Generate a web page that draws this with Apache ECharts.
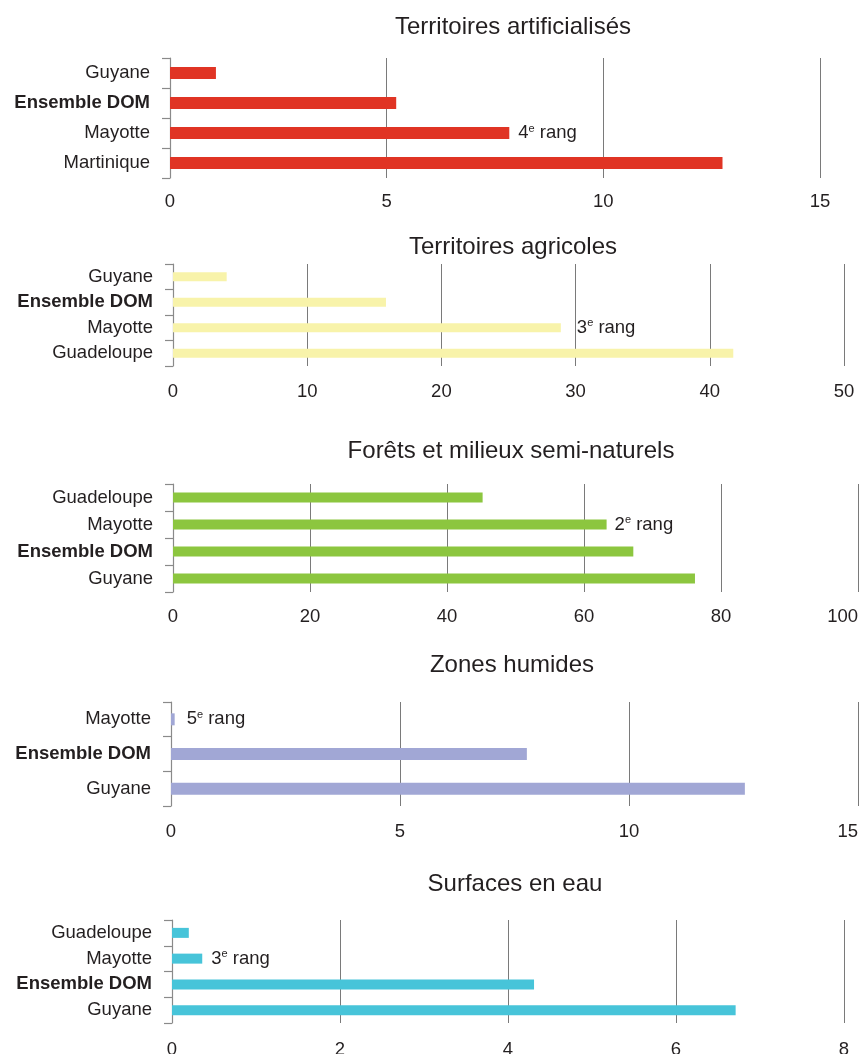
<!DOCTYPE html>
<html>
<head>
<meta charset="utf-8">
<script src="https://cdn.jsdelivr.net/npm/echarts@6/dist/echarts.min.js"></script>
<style>
html,body{margin:0;padding:0;background:#fff;}
#main{width:861px;height:1054px;}
</style>
</head>
<body>
<div id="main"></div>
<script>
// ---- Data ----
const titles = ['Territoires artificialisés', 'Territoires agricoles', 'Forêts et milieux semi-naturels', 'Zones humides', 'Surfaces en eau'];

const cats1 = ['Guyane', 'Ensemble DOM', 'Mayotte', 'Martinique'];
const vals1 = [1.06, 5.22, 7.83, 12.75];

const cats2 = ['Guyane', 'Ensemble DOM', 'Mayotte', 'Guadeloupe'];
const vals2 = [4.0, 15.87, 28.9, 41.75];

const cats3 = ['Guadeloupe', 'Mayotte', 'Ensemble DOM', 'Guyane'];
const vals3 = [45.2, 63.3, 67.2, 76.2];

const cats4 = ['Mayotte', 'Ensemble DOM', 'Guyane'];
const vals4 = [0.08, 7.77, 12.53];

const cats5 = ['Guadeloupe', 'Mayotte', 'Ensemble DOM', 'Guyane'];
const vals5 = [0.2, 0.36, 4.31, 6.71];

const axisMax = [15, 50, 100, 15, 8];
const axisInterval = [5, 10, 20, 5, 2];

const rankNumbers = ['4', '3', '2', '5', '3'];
const rankRegion = 'Mayotte';
const rankSuffix = 'e';
const rankWord = ' rang';

// ---- Layout / style ----
const allCats = [cats1, cats2, cats3, cats4, cats5];
const allVals = [vals1, vals2, vals3, vals4, vals5];
const colors = ['#e03424', '#f8f3aa', '#8cc63f', '#a1a7d5', '#47c4d9'];
const grids = [
  {left: 170, top: 58, height: 120, right: 41},
  {left: 173, top: 264, height: 102, right: 17},
  {left: 173, top: 484, height: 108, right: 3},
  {left: 171, top: 702, height: 104, right: 3},
  {left: 172, top: 920, height: 103, right: 17}
];
const barWidths = [12, 9, 10, 12, 10];
const labelDist = [9, 16, 8, 12, 9];
const tickMargins = [14, 16, 15, 16, 17];
const titlePos = [[513, 27], [513, 247], [511, 451], [512, 665], [515, 884]];
const FONT = '"Liberation Sans", Arial, Helvetica, sans-serif';
const TXT = '#231f20';
const LBL = 18.5;

const chart = echarts.init(document.getElementById('main'), null, {renderer: 'canvas'});

const option = {
  animation: false,
  backgroundColor: '#fff',
  textStyle: {fontFamily: FONT},
  grid: grids.map(g => Object.assign({containLabel: false, outerBoundsMode: 'none'}, g)),
  graphic: titles.map((t, i) => ({
    type: 'text',
    x: titlePos[i][0],
    y: titlePos[i][1],
    style: {
      text: t,
      fontFamily: FONT,
      fontSize: 24,
      fill: TXT,
      textAlign: 'center',
      textVerticalAlign: 'middle'
    }
  })),
  xAxis: grids.map((g, i) => ({
    type: 'value',
    gridIndex: i,
    min: 0,
    max: axisMax[i],
    interval: axisInterval[i],
    axisLine: {show: false},
    axisTick: {show: false},
    splitLine: {show: true, lineStyle: {color: '#7a7a7a', width: 1}},
    axisLabel: {
      fontFamily: FONT, fontSize: LBL, color: TXT, margin: tickMargins[i],
      alignMaxLabel: (i === 2 || i === 3) ? 'right' : null
    }
  })),
  yAxis: grids.map((g, i) => ({
    type: 'category',
    gridIndex: i,
    data: allCats[i],
    inverse: true,
    boundaryGap: true,
    axisLine: {show: true, lineStyle: {color: '#8a8a8a', width: 1.2}},
    axisTick: {show: true, length: 8, interval: 0, lineStyle: {color: '#8a8a8a', width: 1.2}},
    splitLine: {show: false},
    axisLabel: {
      interval: 0,
      margin: 20,
      fontFamily: FONT,
      fontSize: LBL,
      color: TXT,
      formatter: v => v === 'Ensemble DOM' ? '{b|' + v + '}' : v,
      rich: {b: {fontFamily: FONT, fontSize: LBL, fontWeight: 'bold', color: TXT}}
    }
  })),
  series: allVals.map((vals, i) => ({
    type: 'bar',
    xAxisIndex: i,
    yAxisIndex: i,
    data: vals,
    barWidth: barWidths[i],
    itemStyle: {color: colors[i]},
    silent: true,
    label: {
      show: true,
      position: 'right',
      distance: labelDist[i],
      formatter: p => p.name === rankRegion ? '{n|' + rankNumbers[i] + '}{s|' + rankSuffix + '}{n|' + rankWord + '}' : '',
      rich: {
        n: {fontFamily: FONT, fontSize: LBL, color: TXT, lineHeight: 20},
        s: {fontFamily: FONT, fontSize: 11, color: TXT, lineHeight: 13, verticalAlign: 'top'}
      }
    }
  }))
};

chart.setOption(option);
</script>
</body>
</html>
